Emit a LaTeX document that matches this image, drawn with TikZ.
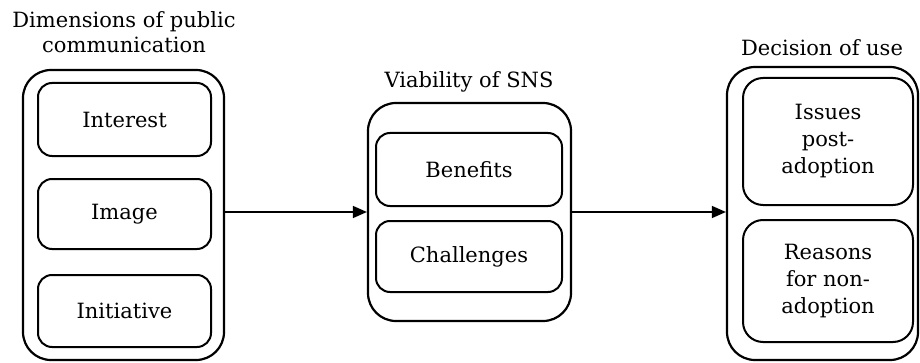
\documentclass[tikz,border=0pt]{standalone}
\usepackage{fontspec}
\setmainfont{DejaVu Serif}
\usetikzlibrary{arrows.meta}
\tikzset{
  outerbox/.style={draw, line width=2.2pt, rounded corners=28pt, inner sep=0pt},
  innerbox/.style={draw, line width=2pt, rounded corners=14pt, align=center, inner sep=0pt, font=\fontsize{21}{27}\selectfont},
  titlelabel/.style={align=center, inner sep=0pt, font=\fontsize{21}{25}\selectfont},
  flow/.style={line width=1.4pt, -{Triangle[length=14pt,width=12pt]}}
}
\begin{document}
\begin{tikzpicture}[x=1pt,y=1pt]
\useasboundingbox (0,0) rectangle (920,362);
% left group
\node[outerbox, minimum width=201pt, minimum height=290pt] (L) at (123.5,147) {};
\node[innerbox, minimum width=173pt, minimum height=73pt] (interest) at (124.5,242.5) {Interest};
\node[innerbox, minimum width=173pt, minimum height=70pt] (image) at (124.5,148) {Image};
\node[innerbox, minimum width=173pt, minimum height=72pt] (initiative) at (124.5,51) {Initiative};
\node[titlelabel] (Lt) at (124,330) {Dimensions of public\\communication};
% middle group
\node[outerbox, minimum width=203pt, minimum height=218pt] (M) at (469.5,150) {};
\node[innerbox, minimum width=186pt, minimum height=73pt] (benefits) at (469,192.5) {Benefits};
\node[innerbox, minimum width=186pt, minimum height=71pt] (challenges) at (469,105.5) {Challenges};
\node[titlelabel] (Mt) at (469,280) {Viability of SNS};
% right group
\node[outerbox, minimum width=191pt, minimum height=293pt] (R) at (822.5,148.5) {};
\node[innerbox, minimum width=170pt, minimum height=127pt, rounded corners=20pt] (issues) at (828,220.5) {Issues\\post-\\adoption};
\node[innerbox, minimum width=170pt, minimum height=122pt, rounded corners=20pt] (reasons) at (828,81) {Reasons\\for non-\\adoption};
\node[titlelabel] (Rt) at (822,314) {Decision of use};
% connectors
\draw[flow] (L.east |- M.west) -- (M.west);
\draw[flow] (M.east) -- (R.west |- M.east);
\end{tikzpicture}
\end{document}
